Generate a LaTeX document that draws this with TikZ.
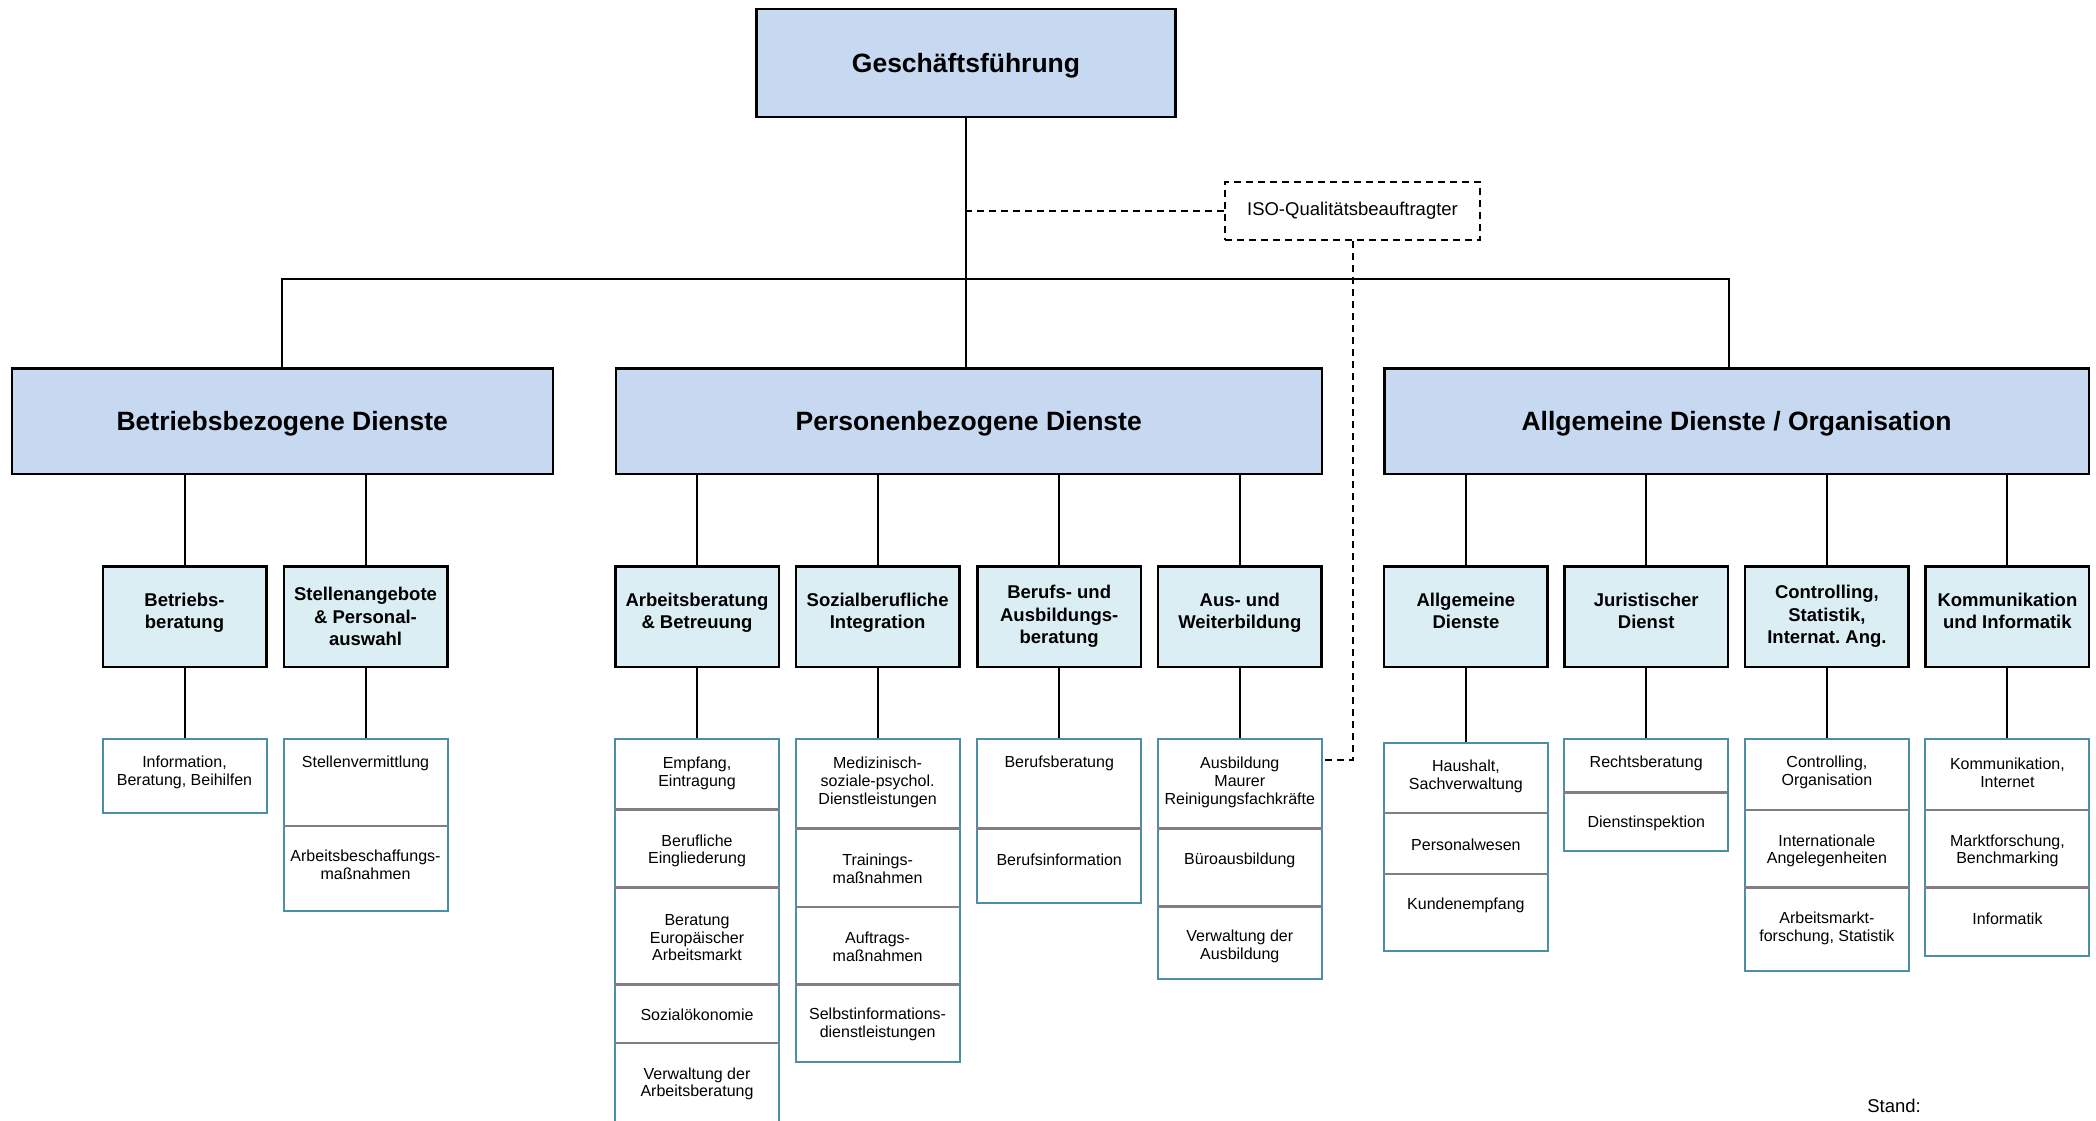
\documentclass[tikz,border=0pt]{standalone}
\usepackage{fontspec}
\setmainfont{Liberation Sans}
\frenchspacing
\definecolor{lvlone}{HTML}{C6D9F0}
\definecolor{lvltwo}{HTML}{DBEEF4}
\definecolor{subteal}{HTML}{4A8FA6}
\definecolor{divgray}{HTML}{808080}
\newcommand\lowdepth{\rule[-11pt]{0pt}{0pt}}
\begin{document}
\begin{tikzpicture}[x=1pt,y=-1pt,
  conn/.style={draw=black,line width=2pt},
  dashconn/.style={draw=black,line width=2pt,dash pattern=on 7pt off 5pt},
  topbox/.style={draw=black,line width=2.5pt,fill=lvlone,inner sep=0pt,text height=25pt,font=\bfseries\fontsize{26.5}{31.8}\selectfont},
  midbox/.style={draw=black,line width=2.5pt,fill=lvltwo,inner sep=0pt,minimum width=163.5pt,minimum height=100.5pt,align=center,font=\bfseries\fontsize{18.5}{22.4}\selectfont},
  subbox/.style={draw=subteal,line width=2pt,fill=white,inner sep=0pt,minimum width=164pt},
  divider/.style={draw=divgray,line width=2.5pt},
  subtext/.style={align=center,inner sep=0pt,font=\fontsize{16}{17.8}\selectfont},
  isobox/.style={draw=black,line width=2pt,dash pattern=on 7pt off 5pt,fill=white,inner sep=0pt,minimum width=255pt,minimum height=58pt,font=\fontsize{18.5}{22}\selectfont},
  plaintext/.style={inner sep=0pt,font=\fontsize{18.5}{22}\selectfont}
]
\useasboundingbox (0,0) rectangle (2096,1120);
\clip (0,0) rectangle (2096,1120);
\fill[white] (0,0) rectangle (2096,1120);

% ---------- top ----------
\node[topbox,minimum width=419pt,minimum height=108pt] (gf) at (966,63) {Geschäftsführung};
\node[isobox] (iso) at (1352.5,211) {ISO-Qualitätsbeauftragter};

% ---------- level 1 ----------
\node[topbox,minimum width=541pt,minimum height=105.5pt] (bb) at (282.25,421) {Betriebsbezogene Dienste};
\node[topbox,minimum width=706pt,minimum height=105.5pt] (pb) at (968.75,421) {Personenbezogene Dienste};
\node[topbox,minimum width=704.5pt,minimum height=105.5pt] (ad) at (1736.5,421) {Allgemeine Dienste / Organisation};

\coordinate (bus) at (966,279);
\draw[conn] (gf.south) -- (gf.south |- pb.north);
\draw[conn] (bb.north) |- (bus) -| ([xshift=-7.5pt]ad.north);
\draw[dashconn] (iso.west) -- (iso.west -| gf.south);

% ---------- level 2 ----------
\node[midbox] (m1) at (184.5,616.5) {Betriebs-\\beratung\lowdepth};
\node[midbox] (m2) at (365.5,616.5) {Stellenangebote\\\& Personal-\\auswahl};
\node[midbox] (m3) at (697,616.5) {Arbeitsberatung\\\& Betreuung\lowdepth};
\node[midbox] (m4) at (877.6,616.5) {Sozialberufliche\\Integration\lowdepth};
\node[midbox] (m5) at (1059.2,616.5) {Berufs- und\\Ausbildungs-\\beratung};
\node[midbox] (m6) at (1239.8,616.5) {Aus- und\\Weiterbildung\lowdepth};
\node[midbox] (m7) at (1465.9,616.5) {Allgemeine\\Dienste\lowdepth};
\node[midbox] (m8) at (1646.2,616.5) {Juristischer\\Dienst\lowdepth};
\node[midbox] (m9) at (1826.9,616.5) {Controlling,\\Statistik,\\Internat. Ang.};
\node[midbox] (m10) at (2007.4,616.5) {Kommunikation\\und Informatik\lowdepth};

\foreach \m in {m1,m2} \draw[conn] (bb.south -| \m.north) -- (\m.north);
\foreach \m in {m3,m4,m5,m6} \draw[conn] (pb.south -| \m.north) -- (\m.north);
\foreach \m in {m7,m8,m9,m10} \draw[conn] (ad.south -| \m.north) -- (\m.north);

% ---------- level 3 boxes ----------
\node[subbox,minimum height=73.7pt] (s1) at (184.5,775.85) {};
\node[subbox,minimum height=171.8pt] (s2) at (365.5,824.9) {};
\node[subbox,minimum height=401pt] (s3) at (697,939.5) {};
\node[subbox,minimum height=322.7pt] (s4) at (877.6,900.35) {};
\node[subbox,minimum height=164pt] (s5) at (1059.2,821) {};
\node[subbox,minimum height=239.6pt] (s6) at (1239.8,858.8) {};
\node[subbox,minimum height=208.2pt] (s7) at (1465.9,846.9) {};
\node[subbox,minimum height=111.7pt] (s8) at (1646.2,794.85) {};
\node[subbox,minimum height=232pt] (s9) at (1826.9,855) {};
\node[subbox,minimum height=217pt] (s10) at (2007.4,847.5) {};

\foreach \i in {1,...,10} \draw[conn] (m\i.south) -- (s\i.north);

\draw[dashconn] (iso.south) |- ([yshift=-22pt]s6.north east);

% dividers
\draw[divider] (s2.west |- 0,826) -- (s2.east |- 0,826);
\foreach \y in {809.5,887.7,984.5,1043} \draw[divider] (s3.west |- 0,\y) -- (s3.east |- 0,\y);
\foreach \y in {828.6,907,984.5} \draw[divider] (s4.west |- 0,\y) -- (s4.east |- 0,\y);
\draw[divider] (s5.west |- 0,828.6) -- (s5.east |- 0,828.6);
\foreach \y in {828.6,906.5} \draw[divider] (s6.west |- 0,\y) -- (s6.east |- 0,\y);
\foreach \y in {813.2,874} \draw[divider] (s7.west |- 0,\y) -- (s7.east |- 0,\y);
\draw[divider] (s8.west |- 0,792.3) -- (s8.east |- 0,792.3);
\foreach \y in {810,887.7} \draw[divider] (s9.west |- 0,\y) -- (s9.east |- 0,\y);
\foreach \y in {810,887.7} \draw[divider] (s10.west |- 0,\y) -- (s10.east |- 0,\y);

% texts
\node[subtext] (t1a) at (184.5,772.7) {Information,\\Beratung, Beihilfen};
\node[subtext] (t2a) at (365.5,763.8) {Stellenvermittlung};
\node[subtext] (t2b) at (365.5,864.5) {Arbeitsbeschaffungs-\\maßnahmen};
\node[subtext] (t3a) at (697,773) {Empfang,\\Eintragung};
\node[subtext] (t3b) at (697,850.8) {Berufliche\\Eingliederung};
\node[subtext] (t3c) at (697,937.6) {Beratung\\Europäischer\\Arbeitsmarkt};
\node[subtext] (t3d) at (697,1014.6) {Sozialökonomie};
\node[subtext] (t3e) at (697,1083.8) {Verwaltung der\\Arbeitsberatung};
\node[subtext] (t4a) at (877.6,782.3) {Medizinisch-\\soziale-psychol.\\Dienstleistungen};
\node[subtext] (t4b) at (877.6,869) {Trainings-\\maßnahmen};
\node[subtext] (t4c) at (877.6,946.5) {Auftrags-\\maßnahmen};
\node[subtext] (t4d) at (877.6,1024) {Selbstinformations-\\dienstleistungen};
\node[subtext] (t5a) at (1059.2,763.8) {Berufsberatung};
\node[subtext] (t5b) at (1059.2,860) {Berufsinformation};
\node[subtext] (t6a) at (1239.8,782.3) {Ausbildung\\Maurer\\Reinigungsfachkräfte};
\node[subtext] (t6b) at (1239.8,860) {Büroausbildung};
\node[subtext] (t6c) at (1239.8,946.7) {Verwaltung der\\Ausbildung};
\node[subtext] (t7a) at (1465.9,776.3) {Haushalt,\\Sachverwaltung};
\node[subtext] (t7b) at (1465.9,845.2) {Personalwesen};
\node[subtext] (t7c) at (1465.9,905.1) {Kundenempfang};
\node[subtext] (t8a) at (1646.2,763.8) {Rechtsberatung};
\node[subtext] (t8b) at (1646.2,823.7) {Dienstinspektion};
\node[subtext] (t9a) at (1826.9,772.7) {Controlling,\\Organisation};
\node[subtext] (t9b) at (1826.9,850.8) {Internationale\\Angelegenheiten};
\node[subtext] (t9c) at (1826.9,928.4) {Arbeitsmarkt-\\forschung, Statistik};
\node[subtext] (t10a) at (2007.4,772.7) {Kommunikation,\\Internet};
\node[subtext] (t10b) at (2007.4,850.8) {Marktforschung,\\Benchmarking};
\node[subtext] (t10c) at (2007.4,919.2) {Informatik};

\node[plaintext] (stand) at (1894,1106) {Stand:};
\end{tikzpicture}
\end{document}
